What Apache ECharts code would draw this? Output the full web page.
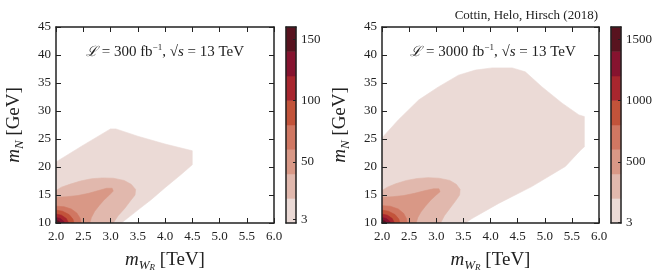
<!DOCTYPE html>
<html><head><meta charset="utf-8">
<script src="https://cdn.jsdelivr.net/npm/echarts@6/dist/echarts.min.js"></script>
<style>html,body{margin:0;padding:0;background:#fff}#c{width:664px;height:279px}</style>
</head><body><div id="c"></div>
<script>
// ---- data (TeV, GeV) : filled-contour regions, value >= level ----
const xTicks = [2.0, 2.5, 3.0, 3.5, 4.0, 4.5, 5.0, 5.5, 6.0];
const yTicks = [10, 15, 20, 25, 30, 35, 40, 45];
const levelsL = [0, 20, 40, 60, 80, 100, 120, 140, 160];
const levelsR = [0, 200, 400, 600, 800, 1000, 1200, 1400, 1600];
const cbTicksL = [3, 50, 100, 150];
const cbTicksR = [3, 500, 1000, 1500];
const bandColors = ['#ebdad6', '#e1b8ad', '#d99886', '#d07762', '#c2533a', '#a8262e', '#86132f', '#58131f'];

const L1 = [[2.0,10],[2.0,20.9],[2.5,23.9],[3.0,26.8],[3.1,26.8],[3.5,25.5],[4.0,24.1],[4.5,22.9],[4.5,20.4],[4.3,18.7],[4.0,16.3],[3.75,14.2],[3.5,12.3],[3.2,10]];
const L2 = [[2.0,10],[2.0,15.8],[2.1,16.4],[2.25,16.9],[2.45,17.5],[2.65,17.9],[2.85,18.05],[3.05,18.0],[3.25,17.6],[3.38,16.9],[3.46,16.0],[3.45,15.0],[3.37,14.0],[3.26,12.6],[3.14,11.3],[3.05,10]];
const L3 = [[2.0,10],[2.0,14.6],[2.2,14.7],[2.4,14.9],[2.6,15.3],[2.78,15.8],[2.93,16.2],[3.03,16.2],[3.05,15.7],[2.98,15.0],[2.88,14.1],[2.79,13.1],[2.71,12.1],[2.65,11.0],[2.62,10]];
const L4 = [[2.0,10],[2.0,13.0],[2.15,12.9],[2.28,12.5],[2.38,11.8],[2.44,10.9],[2.46,10]];
const L5 = [[2.0,10],[2.0,12.3],[2.12,12.1],[2.24,11.5],[2.31,10.7],[2.33,10]];
const L6 = [[2.0,10],[2.0,11.6],[2.1,11.4],[2.19,10.8],[2.23,10]];
const L7 = [[2.0,10],[2.0,11.0],[2.08,10.8],[2.14,10.3],[2.15,10]];
const L8 = [[2.0,10],[2.0,10.5],[2.05,10.35],[2.09,10]];

const R1 = [[2.0,10],[2.0,25.2],[2.3,28.4],[2.68,32.0],[3.04,34.3],[3.41,36.4],[3.72,37.3],[4.03,37.7],[4.4,37.7],[4.64,37.0],[4.95,34.3],[5.32,31.4],[5.63,29.3],[5.73,29.0],[5.73,23.6],[5.66,23.0],[5.38,20.1],[4.76,16.5],[4.15,13.5],[3.66,10.8],[3.54,10]];
const R2 = [[2.0,10],[2.0,15.8],[2.1,16.4],[2.25,17.0],[2.45,17.6],[2.65,17.95],[2.85,18.1],[3.05,18.0],[3.25,17.6],[3.37,16.9],[3.44,16.0],[3.43,15.0],[3.36,14.0],[3.25,12.6],[3.15,11.3],[3.08,10]];
const R3 = [[2.0,10],[2.0,14.6],[2.2,14.7],[2.4,14.9],[2.6,15.3],[2.8,15.8],[2.95,16.1],[3.05,16.1],[3.07,15.6],[3.0,15.0],[2.9,14.1],[2.8,13.0],[2.72,12.0],[2.66,11.0],[2.63,10]];
const R4 = [[2.0,10],[2.0,13.1],[2.15,13.0],[2.3,12.5],[2.4,11.7],[2.45,10.8],[2.46,10]];
const R5 = [[2.0,10],[2.0,12.3],[2.12,12.1],[2.24,11.5],[2.31,10.7],[2.33,10]];
const R6 = [[2.0,10],[2.0,11.6],[2.1,11.4],[2.19,10.8],[2.23,10]];
const R7 = [[2.0,10],[2.0,11.0],[2.08,10.8],[2.14,10.3],[2.15,10]];
const R8 = [[2.0,10],[2.0,10.5],[2.05,10.35],[2.09,10]];

const leftBands = [L1, L2, L3, L4, L5, L6, L7, L8];
const rightBands = [R1, R2, R3, R4, R5, R6, R7, R8];

// ---- build chart ----
const FF = '"Liberation Serif", "DejaVu Serif", serif';
const INK = '#222';
const chart = echarts.init(document.getElementById('c'), null, {renderer: 'canvas'});

const grids = [
  {left: 56, top: 27, width: 218, height: 196},
  {left: 286, top: 27, width: 10, height: 196},
  {left: 382, top: 27, width: 217, height: 196},
  {left: 611, top: 27, width: 10, height: 196}
];

const nameRich = {
  i: {fontFamily: FF, fontStyle: 'italic', fontSize: 19, lineHeight: 24, color: INK},
  s: {fontFamily: FF, fontStyle: 'italic', fontSize: 13, lineHeight: 12, verticalAlign: 'bottom', color: INK},
  ss: {fontFamily: FF, fontStyle: 'italic', fontSize: 9, lineHeight: 2, verticalAlign: 'bottom', color: INK}
};
const lineStyle = {color: INK, width: 1.5};

const xAxes = [], yAxes = [], series = [];
function mainAxes(g) {
  const xi = xAxes.length, yi = yAxes.length;
  xAxes.push({gridIndex: g, type: 'value', min: 2, max: 6, interval: 0.5, position: 'bottom', z: 5,
    axisLine: {show: true, onZero: false, lineStyle}, splitLine: {show: false},
    axisTick: {show: true, inside: true, length: 5, lineStyle: {color: INK, width: 1}},
    axisLabel: {fontFamily: FF, fontSize: 13, color: INK, margin: 7, formatter: v => v.toFixed(1)},
    name: '{i|m}{s|W}{ss|R} [TeV]', nameLocation: 'middle', nameGap: 20,
    nameTextStyle: {fontFamily: FF, fontSize: 19, color: INK, lineHeight: 24, rich: nameRich}});
  xAxes.push({gridIndex: g, type: 'value', min: 2, max: 6, interval: 0.5, position: 'top', z: 5,
    axisLine: {show: true, onZero: false, lineStyle}, splitLine: {show: false},
    axisTick: {show: true, inside: true, length: 5, lineStyle: {color: INK, width: 1}},
    axisLabel: {show: false}});
  yAxes.push({gridIndex: g, type: 'value', min: 10, max: 45, interval: 5, position: 'left', z: 5,
    axisLine: {show: true, onZero: false, lineStyle}, splitLine: {show: false},
    axisTick: {show: true, inside: true, length: 5, lineStyle: {color: INK, width: 1}},
    axisLabel: {fontFamily: FF, fontSize: 13, color: INK, margin: 5},
    name: '{i|m}{s|N} [GeV]', nameLocation: 'middle', nameGap: 30,
    nameTextStyle: {fontFamily: FF, fontSize: 19, color: INK, lineHeight: 24, rich: nameRich}});
  yAxes.push({gridIndex: g, type: 'value', min: 10, max: 45, interval: 5, position: 'right', z: 5,
    axisLine: {show: true, onZero: false, lineStyle}, splitLine: {show: false},
    axisTick: {show: true, inside: true, length: 5, lineStyle: {color: INK, width: 1}},
    axisLabel: {show: false}});
  return [xi, yi];
}
function cbAxes(g, levels, ticks) {
  const xi = xAxes.length, yi = yAxes.length;
  const mx = levels[levels.length - 1];
  xAxes.push({gridIndex: g, type: 'value', min: 0, max: 1, position: 'bottom', z: 5,
    axisLine: {show: true, onZero: false, lineStyle}, axisTick: {show: false}, axisLabel: {show: false}, splitLine: {show: false}});
  xAxes.push({gridIndex: g, type: 'value', min: 0, max: 1, position: 'top', z: 5,
    axisLine: {show: true, onZero: false, lineStyle}, axisTick: {show: false}, axisLabel: {show: false}, splitLine: {show: false}});
  yAxes.push({gridIndex: g, type: 'value', min: 0, max: mx, position: 'left', z: 5,
    axisLine: {show: true, onZero: false, lineStyle}, axisTick: {show: false}, axisLabel: {show: false}, splitLine: {show: false}});
  yAxes.push({gridIndex: g, type: 'value', min: 0, max: mx, position: 'right', z: 5,
    axisLine: {show: true, onZero: false, lineStyle}, splitLine: {show: false},
    axisTick: {show: true, inside: true, length: 3, customValues: ticks, lineStyle: {color: INK, width: 1}},
    axisLabel: {fontFamily: FF, fontSize: 13, color: INK, margin: 5, customValues: ticks, formatter: v => String(v)}});
  return [xi, yi];
}

function addBands(xi, yi, bands) {
  bands.forEach((pts, k) => {
    series.push({type: 'custom', xAxisIndex: xi, yAxisIndex: yi, clip: true, silent: true, z: 1 + k * 0.01,
      data: pts,
      renderItem: (params, api) => {
        if (params.dataIndex !== 0) return null;
        return {type: 'polygon', shape: {points: pts.map(p => api.coord(p))},
          style: {fill: bandColors[k], stroke: bandColors[k], lineWidth: 0.6}};
      }});
  });
}
function addColorbar(xi, yi, levels) {
  const data = levels.slice(0, -1).map((lo, k) => [k, lo, levels[k + 1]]);
  series.push({type: 'custom', xAxisIndex: xi, yAxisIndex: yi, silent: true, z: 1,
    data: data,
    encode: {x: 0, y: [1, 2]},
    renderItem: (params, api) => {
      const k = api.value(0);
      const p0 = api.coord([0, api.value(1)]);
      const p1 = api.coord([1, api.value(2)]);
      return {type: 'rect', shape: {x: p0[0], y: p1[1], width: p1[0] - p0[0], height: p0[1] - p1[1]},
        style: {fill: bandColors[k], stroke: bandColors[k], lineWidth: 0.5}};
    }});
}

let a = mainAxes(0); addBands(a[0], a[1], leftBands);
a = cbAxes(1, levelsL, cbTicksL); addColorbar(a[0], a[1], levelsL);
a = mainAxes(2); addBands(a[0], a[1], rightBands);
a = cbAxes(3, levelsR, cbTicksR); addColorbar(a[0], a[1], levelsR);

const annRich = {
  L: {fontFamily: '"DejaVu Serif", serif', fontStyle: 'italic', fontSize: 14, lineHeight: 18, color: INK},
  sup: {fontFamily: FF, fontSize: 9, lineHeight: 10, verticalAlign: 'top', color: INK},
  it: {fontFamily: FF, fontStyle: 'italic', fontSize: 15, lineHeight: 18, color: INK}
};
function ann(x, y, lum) {
  return {type: 'text', x: x, y: y, z: 10,
    style: {text: '{L|ℒ} = ' + lum + ' fb{sup|−1}, √{it|s} = 13 TeV', fontFamily: FF, fontSize: 15, lineHeight: 18,
      fill: INK, align: 'center', verticalAlign: 'middle', rich: annRich}};
}

chart.setOption({
  animation: false,
  backgroundColor: '#fff',
  grid: grids,
  xAxis: xAxes,
  yAxis: yAxes,
  series: series,
  graphic: [
    ann(165, 52, '300'),
    ann(493, 52, '3000'),
    {type: 'text', x: 598, y: 16, z: 10, style: {text: 'Cottin, Helo, Hirsch (2018)', fontFamily: FF, fontSize: 13,
      fill: INK, align: 'right', verticalAlign: 'middle'}}
  ]
});
</script></body></html>
